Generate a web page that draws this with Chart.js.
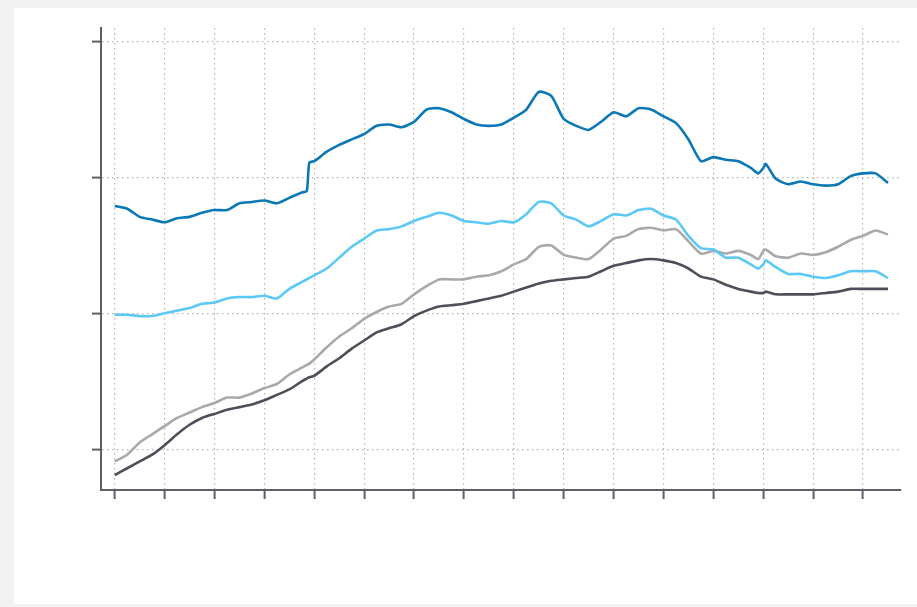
<!DOCTYPE html>
<html>
<head>
<meta charset="utf-8">
<script src="https://cdn.jsdelivr.net/npm/chart.js@4.4.0/dist/chart.umd.min.js"></script>
<style>
  html, body { margin: 0; padding: 0; background: #f2f2f2; }
  .panel { position: absolute; left: 14px; top: 8px; width: 903px; height: 596px; background: #fff; }
</style>
</head>
<body>
<div class="panel"><canvas id="trend"></canvas></div>
<script>
// time axis in years from the start of the series (quarterly, plus a few extra samples at sharp moves)
const periods = [0, 0.25, 0.5, 0.75, 1, 1.25, 1.5, 1.75, 2, 2.25, 2.5, 2.75, 3, 3.25, 3.5, 3.75, 3.85, 3.9,
  4, 4.25, 4.5, 4.75, 5, 5.25, 5.5, 5.75, 6, 6.25, 6.5, 6.75, 7, 7.25, 7.5, 7.75, 8, 8.25, 8.5, 8.75,
  9, 9.25, 9.5, 9.75, 10, 10.25, 10.5, 10.75, 11, 11.25, 11.5, 11.75, 12, 12.25, 12.5, 12.75, 12.9, 13, 13.05,
  13.25, 13.5, 13.75, 14, 14.25, 14.5, 14.75, 15, 15.25, 15.5];

const seriesDark = [17.9, 17.7, 17.1, 16.9, 16.7, 17.0, 17.1, 17.4, 17.6, 17.6, 18.1, 18.2, 18.3, 18.1, 18.5, 18.9, 19.0, 21.1,
  21.2, 21.9, 22.4, 22.8, 23.2, 23.8, 23.9, 23.7, 24.1, 25.0, 25.1, 24.8, 24.3, 23.9, 23.8, 23.9, 24.4, 25.0, 26.3, 26.0,
  24.3, 23.8, 23.5, 24.1, 24.8, 24.5, 25.1, 25.0, 24.5, 24.0, 22.8, 21.2, 21.5, 21.3, 21.2, 20.7, 20.3, 20.7, 21.0,
  19.9, 19.5, 19.7, 19.5, 19.4, 19.5, 20.1, 20.3, 20.3, 19.6];

const seriesLight = [9.9, 9.9, 9.8, 9.8, 10.0, 10.2, 10.4, 10.7, 10.8, 11.1, 11.2, 11.2, 11.3, 11.1, 11.8, 12.3, 12.5, 12.6,
  12.8, 13.3, 14.1, 14.9, 15.5, 16.1, 16.2, 16.4, 16.8, 17.1, 17.4, 17.2, 16.8, 16.7, 16.6, 16.8, 16.7, 17.3, 18.2, 18.1,
  17.2, 16.9, 16.4, 16.8, 17.3, 17.2, 17.6, 17.7, 17.2, 16.9, 15.7, 14.8, 14.7, 14.1, 14.1, 13.6, 13.3, 13.6, 13.9,
  13.4, 12.9, 12.9, 12.7, 12.6, 12.8, 13.1, 13.1, 13.1, 12.6];

const seriesGrey = [-0.9, -0.4, 0.5, 1.1, 1.7, 2.3, 2.7, 3.1, 3.4, 3.8, 3.8, 4.1, 4.5, 4.8, 5.5, 6.0, 6.2, 6.3,
  6.6, 7.5, 8.3, 8.9, 9.6, 10.1, 10.5, 10.7, 11.4, 12.0, 12.5, 12.5, 12.5, 12.7, 12.8, 13.1, 13.6, 14.0, 14.9, 15.0,
  14.3, 14.1, 14.0, 14.7, 15.5, 15.7, 16.2, 16.3, 16.1, 16.2, 15.3, 14.4, 14.6, 14.4, 14.6, 14.3, 14.0, 14.6, 14.7,
  14.2, 14.1, 14.4, 14.3, 14.5, 14.9, 15.4, 15.7, 16.1, 15.8];

const seriesCharcoal = [-1.9, -1.4, -0.9, -0.4, 0.3, 1.1, 1.8, 2.3, 2.6, 2.9, 3.1, 3.3, 3.6, 4.0, 4.4, 5.0, 5.2, 5.3,
  5.4, 6.1, 6.7, 7.4, 8.0, 8.6, 8.9, 9.2, 9.8, 10.2, 10.5, 10.6, 10.7, 10.9, 11.1, 11.3, 11.6, 11.9, 12.2, 12.4,
  12.5, 12.6, 12.7, 13.1, 13.5, 13.7, 13.9, 14.0, 13.9, 13.7, 13.3, 12.7, 12.5, 12.1, 11.8, 11.6, 11.5, 11.5, 11.6,
  11.4, 11.4, 11.4, 11.4, 11.5, 11.6, 11.8, 11.8, 11.8, 11.8];

const xTicks = [0, 1, 2, 3, 4, 5, 6, 7, 8, 9, 10, 11, 12, 13, 14, 15];
const yTicks = [0, 10, 20, 30];

const toPoints = ys => ys.map((y, i) => ({ x: periods[i], y }));

const makeLine = (label, ys, color) => ({
  label,
  data: toPoints(ys),
  borderColor: color,
  borderWidth: 2.6,
  pointRadius: 0,
  tension: 0.2,
  fill: false
});

const axisColor = '#5d5e66';
const gridColor = '#b3b3b3';

const baseAxis = {
  type: 'linear',
  ticks: { display: false },
  grid: {
    color: gridColor,
    lineWidth: 1.2,
    tickLength: 9,
    tickColor: axisColor,
    tickWidth: 2,
    tickBorderDash: []
  },
  // border.dash styles the dotted grid lines in Chart.js v4
  border: { display: true, color: axisColor, width: 2, dash: [1.5, 3.5] }
};

new Chart(document.getElementById('trend'), {
  type: 'line',
  data: {
    datasets: [
      makeLine('A', seriesDark, '#0a78b5'),
      makeLine('B', seriesLight, '#5cc8f5'),
      makeLine('C', seriesGrey, '#a9a9a9'),
      makeLine('D', seriesCharcoal, '#4d4e5a')
    ]
  },
  options: {
    responsive: true,
    maintainAspectRatio: false,
    animation: false,
    layout: { padding: { left: 87, top: 20, right: 16, bottom: 114 } },
    plugins: { legend: { display: false }, tooltip: { enabled: false } },
    scales: {
      x: {
        ...baseAxis,
        min: -0.275,
        max: 15.76,
        afterBuildTicks: s => { s.ticks = xTicks.map(v => ({ value: v })); },
        afterFit: s => { s.height = 0; }
      },
      y: {
        ...baseAxis,
        min: -3,
        max: 31,
        afterBuildTicks: s => { s.ticks = yTicks.map(v => ({ value: v })); },
        afterFit: s => { s.width = 0; }
      }
    }
  }
});
</script>
</body>
</html>
